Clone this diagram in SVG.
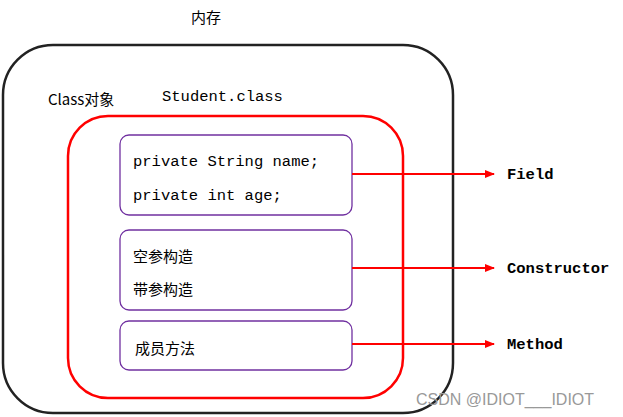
<svg xmlns="http://www.w3.org/2000/svg" width="623" height="417" viewBox="0 0 623 417">
<style>
.t{font-family:"Liberation Mono","Noto Sans CJK SC",monospace;font-size:15.5px;fill:#000}
.c{font-family:"Noto Sans CJK SC",sans-serif;font-size:15px;fill:#000}
.b{font-weight:bold}
.box{fill:#fff;stroke:#7030a0;stroke-width:1.3}
.ar{stroke:#f00;stroke-width:2;fill:none;marker-end:url(#ah)}
</style>
<defs><marker id="ah" markerWidth="10" markerHeight="8" refX="9" refY="4" orient="auto" markerUnits="userSpaceOnUse"><path d="M0,0L10,4L0,8z" fill="#f00"/></marker></defs>
<rect width="623" height="417" fill="#fff"/>
<g id="memory">
<text class="c" x="191" y="23">内存</text>
<rect x="3" y="45" width="450" height="368" rx="50" fill="none" stroke="#222" stroke-width="2.5"/>
<text class="c" x="48" y="105">Class对象</text>
</g>
<g id="classobj">
<text class="t" x="162" y="101">Student.class</text>
<rect x="68" y="116" width="335" height="282" rx="40" fill="none" stroke="#f00" stroke-width="2.5"/>
</g>
<g id="fields"><rect class="box" x="120" y="135" width="232" height="80" rx="9"/>
<text class="t" x="133" y="166">private String name;</text><text class="t" x="133" y="200">private int age;</text></g>
<g id="ctors"><rect class="box" x="120" y="230" width="232" height="80" rx="9"/>
<text class="c" x="133" y="262">空参构造</text><text class="c" x="133" y="295">带参构造</text></g>
<g id="methods"><rect class="box" x="120" y="321" width="232" height="49" rx="9"/>
<text class="c" x="135" y="354">成员方法</text></g>
<g id="connectors">
<path class="ar" d="M352,174H494"/><path class="ar" d="M352,268H494"/><path class="ar" d="M352,344H494"/>
</g>
<g id="labels">
<text class="t b" x="507" y="179">Field</text>
<text class="t b" x="507" y="273">Constructor</text>
<text class="t b" x="507" y="349">Method</text>
</g>
<text x="416" y="405" font-family="Liberation Sans,sans-serif" font-size="16" fill="#999">CSDN @IDIOT___IDIOT</text>
</svg>
